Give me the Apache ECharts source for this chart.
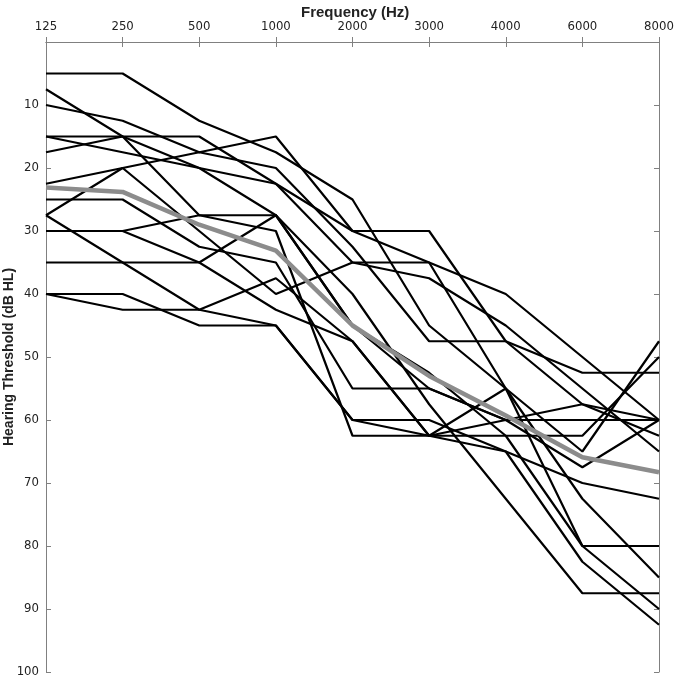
<!DOCTYPE html>
<html><head><meta charset="utf-8">
<script src="https://cdn.jsdelivr.net/npm/echarts@6/dist/echarts.min.js"></script>
<style>html,body{margin:0;padding:0;background:#fff}#c{width:675px;height:679px}</style>
</head><body><div id="c"></div>
<script>
const frequencies = ['125','250','500','1000','2000','3000','4000','6000','8000'];
const yTicks = [10,20,30,40,50,60,70,80,90,100];
const L1  = [5, 5, 12.5, 17.5, 25, 45, 55, 72.5, 85];
const L2  = [7.5, 15, 20, 22.5, 35, 37.5, 45, 55, 65];
const L3  = [10, 12.5, 17.5, 15, 30, 35, 40, 50, 60];
const L4  = [15, 15, 15, 22.5, 30, 30, 47.5, 57.5, 60];
const L5  = [17.5, 15, 27.5, 27.5, 45, 55, 60, 67.5, 60];
const L6  = [22.5, 20, 17.5, 20, 32.5, 47.5, 47.5, 52.5, 52.5];
const L7  = [27.5, 20, 30, 40, 35, 35, 55, 80, 90];
const L8  = [25, 25, 32.5, 35, 55, 55, 60, 60, 60];
const L9  = [27.5, 35, 42.5, 45, 60, 60, 65, 82.5, 92.5];
const L10 = [30, 30, 35, 42.5, 47.5, 62.5, 62.5, 62.5, 50];
const L11 = [35, 35, 35, 27.5, 40, 57.5, 72.5, 87.5, 87.5];
const L12 = [40, 40, 45, 45, 60, 62.5, 55, 65, 47.5];
const L13 = [40, 42.5, 42.5, 37.5, 47.5, 62.5, 65, 70, 72.5];
const L14 = [30, 30, 27.5, 30, 62.5, 62.5, 60, 57.5, 62.5];
const L15 = [15, 17.5, 20, 27.5, 45, 52.5, 62.5, 80, 80];
const meanLine = [23.1, 23.8, 29, 33.1, 45, 53, 59.3, 65.9, 68.3];
const individual = [L1,L2,L3,L4,L5,L6,L7,L8,L9,L10,L11,L12,L13,L14,L15];
const yAxisTitle = 'Hearing Threshold (dB HL)';

const chart = echarts.init(document.getElementById('c'), null, {renderer:'canvas'});
const axisLine = {lineStyle:{color:'#808080', width:1}};
const font = 'DejaVu Sans Condensed, DejaVu Sans, sans-serif';
const series = individual.map((d,i)=>({
  type:'line', name:'s'+i, data:d, symbol:'none', silent:true,
  lineStyle:{color:'#000', width:2.2}, z:2, animation:false
}));
series.push({type:'line', name:'mean', data:meanLine, symbol:'none', silent:true,
  lineStyle:{color:'#8c8c8c', width:4.5}, z:3, animation:false});
chart.setOption({
  backgroundColor:'#fff',
  animation:false,
  title:{text:'Frequency (Hz)', left:296, top:0,
    textStyle:{fontFamily:'Liberation Sans, Arial, sans-serif', fontWeight:'bold', fontSize:15, color:'#222'}},
  graphic:[{type:'text', x:9, y:357, rotation:Math.PI/2, silent:true,
    style:{text:yAxisTitle, textAlign:'center', textVerticalAlign:'middle',
      font:'bold 14px "Liberation Sans", Arial, sans-serif', fill:'#222'}}],
  grid:{left:46, right:16, top:42, bottom:7, containLabel:false, outerBoundsMode:'none'},
  xAxis:[
    {type:'category', data:frequencies, position:'top', boundaryGap:false,
     axisLine:axisLine, axisTick:{inside:true, length:5, lineStyle:{color:'#808080'}},
     axisLabel:{fontFamily:font, fontSize:13, color:'#222', margin:9}, splitLine:{show:false}},
    {type:'category', data:frequencies, position:'bottom', boundaryGap:false,
     axisLine:axisLine, axisTick:{inside:true, length:5, lineStyle:{color:'#808080'}},
     axisLabel:{show:false}, splitLine:{show:false}}
  ],
  yAxis:[
    {type:'value', inverse:true, min:0, max:100, interval:10, position:'left',
     axisLine:{show:true, lineStyle:{color:'#808080'}}, axisTick:{show:true, inside:true, length:5, lineStyle:{color:'#808080'}},
     axisLabel:{fontFamily:font, fontSize:13, color:'#222', margin:7,
       formatter:v=> yTicks.includes(v) ? String(v) : ''}, splitLine:{show:false}},
    {type:'value', inverse:true, min:0, max:100, interval:10, position:'right',
     axisLine:{show:true, lineStyle:{color:'#808080'}}, axisTick:{show:true, inside:true, length:5, lineStyle:{color:'#808080'}},
     axisLabel:{show:false}, splitLine:{show:false}}
  ],
  series:series
});
</script></body></html>
